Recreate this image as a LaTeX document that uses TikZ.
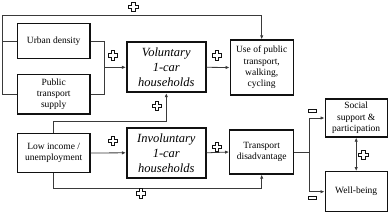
\documentclass[tikz,border=0pt]{standalone}
\usepackage{fontspec}
\setmainfont{Liberation Serif}
\usetikzlibrary{arrows.meta,positioning,calc}
\definecolor{ink}  {HTML}{111111}
\definecolor{wire} {HTML}{3A3A3A}

\begin{document}
\begin{tikzpicture}[x=1pt, y=-1pt,
    box/.style={draw=ink, line width=1.3pt, align=center, inner sep=0pt,
                font=\fontsize{9.5}{11.3}\selectfont},
    carbox/.style={box, line width=1.7pt, minimum width=79pt, minimum height=50pt,
                font=\fontsize{12.5}{15}\selectfont\itshape},
    wirel/.style={draw=wire, line width=0.8pt},
    arr/.style={wirel, -{Latex[length=4pt,width=3.4pt]}},
    dblarr/.style={wirel, {Latex[length=4pt,width=3.4pt]}-{Latex[length=4pt,width=3.4pt]}},
    plusmark/.pic={
      \draw[ink, fill=white, line width=0.7pt]
        (-1.8,-4.8) -- (1.8,-4.8) -- (1.8,-1.8) -- (4.8,-1.8) -- (4.8,1.8) -- (1.8,1.8)
        -- (1.8,4.8) -- (-1.8,4.8) -- (-1.8,1.8) -- (-4.8,1.8) -- (-4.8,-1.8) -- (-1.8,-1.8) -- cycle;
    },
    minusmark/.pic={
      \draw[ink, fill=white, line width=0.7pt] (-4.3,-1.8) rectangle (4.3,1.8);
    }]
  \useasboundingbox (0,0) rectangle (391,215);

  % factor boxes
  \node[box, minimum width=72.7pt, minimum height=35.6pt] (urban) at (53.7,41) {Urban density};
  \node[box, minimum width=72.7pt, minimum height=39.7pt] (pub)   at (53.7,94.2) {Public\\transport\\supply};
  \node[box, minimum width=72.7pt, minimum height=39.4pt] (low)   at (53.7,153) {Low income /\\unemployment};

  % car households
  \node[carbox] (vol) at (166.3,67.3) {Voluntary\\1-car\\households};
  \node[carbox] (inv) at (166.3,152.8) {Involuntary\\1-car\\households};

  % outcomes
  \node[box, minimum width=63pt, minimum height=55pt] (use)   at (261.7,67.5) {Use of public\\transport,\\walking,\\cycling};
  \node[box, minimum width=64pt, minimum height=44pt] (trans) at (261.7,152) {Transport\\disadvantage};
  \node[box, minimum width=62pt, minimum height=38pt] (soc)   at (356.2,118) {Social\\support \&\\participation};
  \node[box, minimum width=62pt, minimum height=40pt] (well)  at (356.2,191.7) {Well-being};

  \coordinate (tl)     at (2.7,15.7);
  \coordinate (jn)     at (104,67.3);
  \coordinate (lowtop) at (53.7,121);
  \coordinate (lowbot) at (53.7,188);
  \coordinate (br)     at (309.3,152);

  % connectors
  \draw[arr]   (urban.west) -| (tl) -| (use.north);
  \draw[wirel] (pub.west) -| (tl);
  \draw[wirel] (urban.east) -| (jn);
  \draw[wirel] (pub.east) -| (jn);
  \draw[arr]   (jn) -- (vol.west);
  \draw[arr]   (vol.east) -- (use.west);
  \draw[arr]   (low.east) -- (inv.west);
  \draw[arr]   (low.north) -- (lowtop) -| (vol.south);
  \draw[arr]   (low.south) -- (lowbot) -| (trans.south);
  \draw[arr]   (inv.east) -- (trans.west);
  \draw[wirel] (trans.east) -- (br);
  \draw[arr]   (br) |- (soc.west);
  \draw[arr]   (br) |- (well.west);
  \draw[dblarr] (soc.south) -- (well.north);

  % signs
  \pic at (133.3,6.7)   {plusmark};
  \pic at (112.7,55.5)  {plusmark};
  \pic at (217,55.5)    {plusmark};
  \pic at (157,106)     {plusmark};
  \pic at (112.7,140.7) {plusmark};
  \pic at (216.7,146.7) {plusmark};
  \pic at (140.7,193.3) {plusmark};
  \pic at (363.3,155)   {plusmark};
  \pic at (312.3,110.7) {minusmark};
  \pic at (312.3,197.7) {minusmark};
\end{tikzpicture}
\end{document}
